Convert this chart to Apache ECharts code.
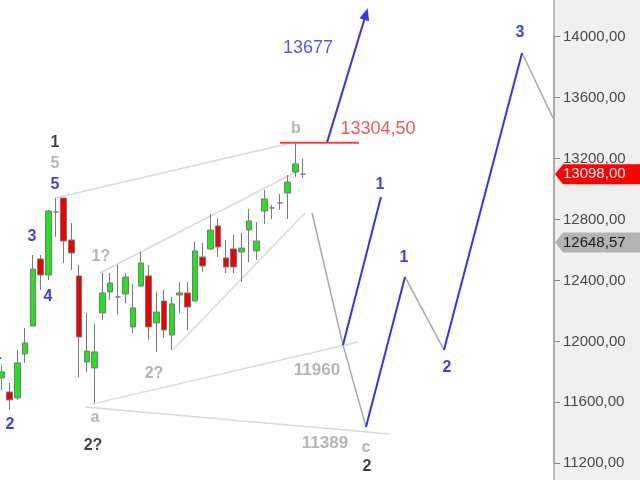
<!DOCTYPE html>
<html>
<head>
<meta charset="utf-8">
<script src="https://cdn.jsdelivr.net/npm/echarts@6/dist/echarts.min.js"></script>
<style>html,body{margin:0;padding:0;background:#fff}#c{width:640px;height:480px}</style>
</head>
<body>
<div id="c"></div>
<script>
// ---- data ----
const slotCount = 72;
const categories = [];
for (let i = 0; i < slotCount; i++) categories.push(String(i));

// [open, close, low, high]
const candles = [
  [11760, 11800, 11681, 11846],
  [11668, 11616, 11550, 11727],
  [11629, 11859, 11616, 11944],
  [11918, 11990, 11859, 12088],
  [12101, 12475, 12101, 12567],
  [12541, 12436, 12338, 12567],
  [12436, 12856, 12403, 12863],
  [12850, 12850, 12686, 12941],
  [12941, 12659, 12515, 12941],
  [12666, 12581, 12469, 12777],
  [12430, 12029, 11767, 12502],
  [11865, 11937, 11800, 12187],
  [11826, 11931, 11596, 12115],
  [12187, 12318, 12141, 12449],
  [12325, 12384, 12272, 12449],
  [12292, 12292, 12174, 12502],
  [12311, 12423, 12252, 12449],
  [12095, 12220, 12055, 12377],
  [12364, 12515, 12357, 12587],
  [12430, 12095, 12010, 12502],
  [12121, 12193, 11931, 12325],
  [12265, 12075, 12023, 12338],
  [12042, 12246, 11944, 12292],
  [12305, 12318, 12187, 12390],
  [12318, 12226, 12075, 12390],
  [12265, 12594, 12265, 12653],
  [12554, 12495, 12456, 12646],
  [12607, 12731, 12600, 12836],
  [12758, 12620, 12554, 12810],
  [12548, 12489, 12449, 12666],
  [12607, 12489, 12449, 12699],
  [12587, 12613, 12390, 12712],
  [12731, 12791, 12521, 12869],
  [12594, 12659, 12535, 12784],
  [12856, 12935, 12771, 12994],
  [12876, 12876, 12804, 12896],
  [12909, 12909, 12863, 12968],
  [12974, 13046, 12804, 13092],
  [13112, 13165, 13079, 13304.5],
  [13098, 13098, 13073, 13197]
];

// channel lines (light gray): [[x,y],[x,y]] in slot / price units
const channelLines = [
  [[6.87, 12941], [37.56, 13304.5]],
  [[12.69, 12449], [38.6, 13125]],
  [[22.15, 11944], [39.25, 12843]],
  [[11.79, 11590], [46.11, 11996]],
  [[10.75, 11570], [50.26, 11393]]
];
// gray projection paths
const grayPaths = [
  [[40.16, 12843], [44.17, 11977], [47.15, 11439]],
  [[52.2, 12423], [57.25, 11944]],
  [[67.36, 13893], [71.37, 13467]]
];
// blue projection paths
const bluePaths = [
  [[44.17, 11977], [49.09, 12948]],
  [[47.15, 11439], [52.2, 12423]],
  [[57.25, 11944], [67.36, 13893]]
];
const arrowLine = [[42.1, 13304.5], [47.15, 14149]];
const resistance = { from: 36.0, to: 46.24, value: 13304.5 };

// text labels: [text, slot, price]
const blueLabels = [
  ['5', 6.87, 13027], ['3', 3.89, 12686], ['4', 5.96, 12292],
  ['1', -0.62, 11911], ['2', 1.04, 11452],
  ['1', 48.96, 13027], ['1', 52.07, 12548], ['2', 57.64, 11826], ['3', 67.1, 14024]
];
const blackLabels = [['1', 6.87, 13302], ['2?', 11.79, 11314], ['2', 47.28, 11176]];
const grayLabels = [
  ['5', 6.87, 13165], ['1?', 12.82, 12554], ['2?', 19.69, 11787],
  ['a', 12.05, 11498], ['b', 38.08, 13394], ['c', 47.15, 11301]
];
const grayValueLabels = [['11960', 40.8, 11813], ['11389', 41.84, 11334]];
const blueValueLabels = [['13677', 39.64, 13926]];
const redValueLabels = [['13304,50', 48.7, 13394]];

const yTicks = { min: 11200, max: 14000, step: 400 };
const lastPrice = 13098.00;
const avgPrice = 12648.57;

// ---- chart ----
const FONT = 'Liberation Sans, Arial, sans-serif';
const BLUE = '#3434f2';
const chart = echarts.init(document.getElementById('c'), null, { renderer: 'canvas' });

function fmt(v) { return v.toFixed(2).replace('.', ','); }

function labelSeries(items, color, size, weight) {
  return {
    type: 'scatter', xAxisIndex: 1, yAxisIndex: 0, clip: false, silent: true, z: 6,
    symbolSize: 1, itemStyle: { color: 'rgba(0,0,0,0)' },
    data: items.map(d => ({
      value: [d[1], d[2]],
      label: { show: true, position: 'inside', formatter: d[0], color: color,
               fontSize: size, fontWeight: weight, fontFamily: FONT }
    }))
  };
}
function lineSeries(pts, color, width, z) {
  return {
    type: 'line', xAxisIndex: 1, yAxisIndex: 0, clip: false, silent: true, z: z,
    symbol: 'none', data: pts, animation: false,
    lineStyle: { color: color, width: width }
  };
}

const series = [
  {
    type: 'candlestick', xAxisIndex: 0, yAxisIndex: 0, z: 3, barWidth: 6,
    data: candles,
    itemStyle: {
      color: '#1fe51f', color0: '#f20000',
      borderColor: '#7a7a7a', borderColor0: '#7a7a7a', borderColorDoji: '#7a7a7a',
      borderWidth: 1
    }
  }
];
channelLines.forEach(l => series.push(lineSeries(l, '#dadada', 1.5, 1)));
grayPaths.forEach(l => series.push(lineSeries(l, '#a9a9a9', 1.5, 2)));
bluePaths.forEach(l => series.push(lineSeries(l, BLUE, 2, 2)));
series.push(lineSeries([[resistance.from, resistance.value], [resistance.to, resistance.value]], '#ff3c3c', 2, 4));
series.push(labelSeries(blueLabels, '#0c0cee', 16, 'bold'));
series.push(labelSeries(blackLabels, '#111111', 16, 'bold'));
series.push(labelSeries(grayLabels, '#a3a3a3', 16, 'bold'));
series.push(labelSeries(grayValueLabels, '#a3a3a3', 17, 'bold'));
series.push(labelSeries(blueValueLabels, '#2a2aee', 18, 'normal'));
series.push(labelSeries(redValueLabels, '#ff2a2a', 18, 'normal'));

const baseOption = {
  animation: false,
  backgroundColor: '#ffffff',
  grid: { left: -1.9, right: 86, top: 36.7, bottom: 16.7, containLabel: false, outerBoundsMode: 'none' },
  xAxis: [
    { type: 'category', data: categories, boundaryGap: true, show: false },
    { type: 'value', min: -0.5, max: slotCount - 0.5, show: false }
  ],
  yAxis: [{
    type: 'value', position: 'right', min: yTicks.min, max: yTicks.max, interval: yTicks.step,
    splitLine: { show: false },
    axisLine: { show: true, onZero: false, lineStyle: { color: '#a6a6a6', width: 1.5 } },
    axisTick: { show: true, length: 6, lineStyle: { color: '#8a8a8a' } },
    axisLabel: { formatter: fmt, color: '#4a4a4a', fontSize: 15, fontFamily: FONT, margin: 9 }
  }],
  series: series
};
chart.setOption(baseOption);

// arrow (head rotated along the line, computed through the scales), panel, tags
function addDecor() {
  const p0 = chart.convertToPixel({ xAxisIndex: 1, yAxisIndex: 0 }, arrowLine[0]);
  const p1 = chart.convertToPixel({ xAxisIndex: 1, yAxisIndex: 0 }, arrowLine[1]);
  const angle = Math.atan2(p1[0] - p0[0], p0[1] - p1[1]) * 180 / Math.PI;
  const arrowSeries = {
    type: 'line', xAxisIndex: 1, yAxisIndex: 0, clip: false, silent: true, z: 2,
    showSymbol: true, showAllSymbol: true, animation: false,
    lineStyle: { color: BLUE, width: 2 },
    itemStyle: { color: BLUE },
    data: [
      { value: arrowLine[0], symbol: 'none' },
      { value: arrowLine[1], symbol: 'triangle', symbolSize: [10, 12], symbolRotate: -angle }
    ]
  };
  const ax = chart.convertToPixel({ xAxisIndex: 1 }, slotCount - 0.5);
  const yLast = chart.convertToPixel({ yAxisIndex: 0 }, lastPrice);
  const yAvg = chart.convertToPixel({ yAxisIndex: 0 }, avgPrice);
  function tag(y, fill, textColor, text) {
    return [
      { type: 'polygon', z: 100, shape: { points: [[ax + 1, y], [ax + 9, y - 10], [640, y - 10], [640, y + 10], [ax + 9, y + 10]] },
        style: { fill: fill } },
      { type: 'text', z: 101, x: ax + 9, y: y,
        style: { text: text, fill: textColor, fontSize: 15, fontFamily: FONT, align: 'left', verticalAlign: 'middle' } }
    ];
  }
  chart.setOption({
    series: series.concat([arrowSeries]),
    graphic: [
      { type: 'rect', z: -10, silent: true, shape: { x: ax, y: 0, width: 640 - ax, height: 480 }, style: { fill: '#f0f0f0' } },
      { type: 'line', z: 50, silent: true, shape: { x1: ax, y1: 0, x2: ax, y2: 480 }, style: { stroke: '#a6a6a6', lineWidth: 1.5 } }
    ].concat(tag(yLast, '#ff0000', '#ffffff', fmt(lastPrice)))
     .concat(tag(yAvg, '#b4b4b4', '#1a1a1a', fmt(avgPrice)))
  });
}
addDecor();
</script>
</body>
</html>
